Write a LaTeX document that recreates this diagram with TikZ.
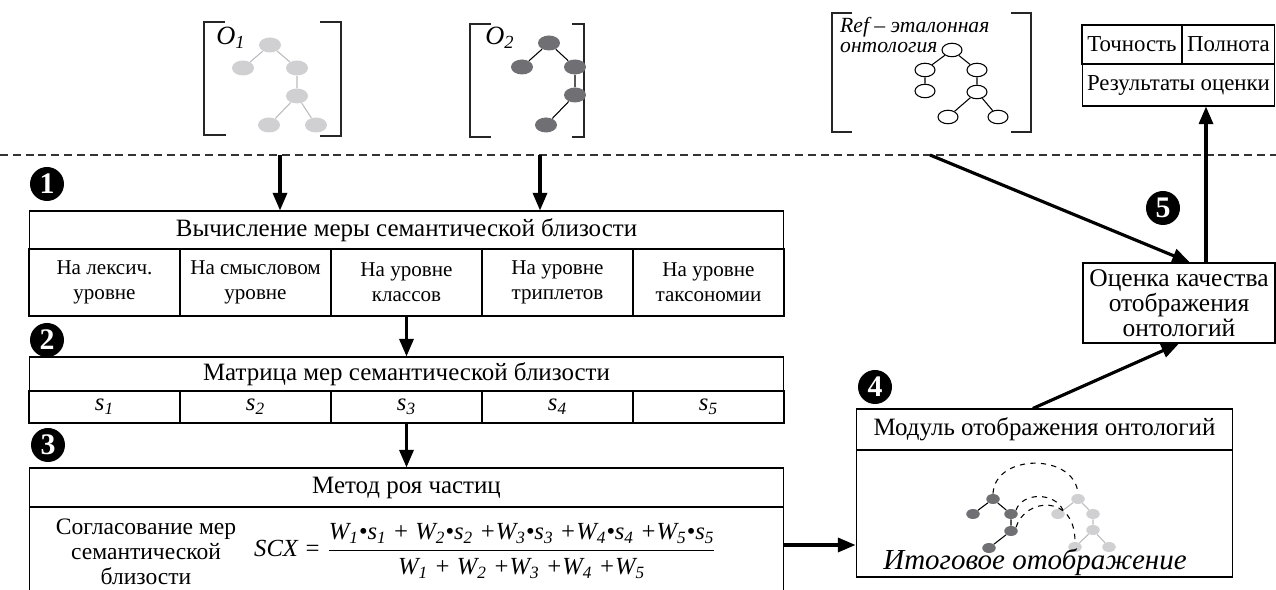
\documentclass[tikz,border=0pt]{standalone}
\usepackage{fontspec}
\setmainfont{Liberation Serif}
\usetikzlibrary{arrows.meta, shapes.geometric, positioning}
\definecolor{lgray}{RGB}{208,208,210}
\definecolor{dgray}{RGB}{112,112,116}
\newcommand{\wsx}[2]{#1\textsubscript{#2}}

\tikzset{
  cell/.style={draw, line width=0.6pt, inner sep=0pt, align=center, font=\fontsize{14.2}{14.2}\selectfont},
  col/.style={cell, font=\fontsize{12}{14.2}\selectfont},
  arr/.style={-{Triangle[length=10pt, width=8pt]}, line width=1.8pt},
  badge/.style={circle, fill=black, text=white, inner sep=0pt, minimum size=0.68cm,
    font=\fontsize{17}{17}\selectfont\bfseries},
  brk/.style={line width=0.7pt, draw=black!85},
  sep/.style={dashed, dash pattern=on 4.5pt off 2.8pt, line width=0.6pt, draw=black!80},
  lnode/.style={ellipse, fill=lgray, inner sep=0pt, minimum width=0.44cm, minimum height=0.3cm},
  dnode/.style={lnode, fill=dgray},
  wnode/.style={ellipse, draw, fill=white, line width=0.6pt, inner sep=0pt,
    minimum width=0.4cm, minimum height=0.27cm},
  lsmall/.style={lnode, minimum width=0.27cm, minimum height=0.2cm},
  dsmall/.style={dnode, minimum width=0.27cm, minimum height=0.2cm},
  ledge/.style={draw=lgray!90!black, line width=0.6pt},
  dedge/.style={draw=black, line width=0.6pt},
}

\begin{document}
\begin{tikzpicture}[x=0.02cm, y=-0.02cm]
  \clip (0,0) rectangle (1276,590);
  % Разделительная линия
  \draw[sep] (0,155) -- (1276,155);

  % Онтология O1
  \draw[brk] (225,22) -| (204,135) -- (226,135);
  \draw[brk] (320,22) -| (341,136) -- (320,136);
  \node[font=\fontsize{15}{15}\selectfont\itshape] (o1lbl) at (231,38) {O\textsubscript{1}};
  \node[lnode] (a1) at (270,45) {};
  \node[lnode] (a2) at (243,68) {};
  \node[lnode] (a3) at (297,68) {};
  \node[lnode] (a4) at (297,96) {};
  \node[lnode] (a5) at (269,125) {};
  \node[lnode] (a6) at (316,125) {};
  \draw[ledge] (a1) -- (a2) (a1) -- (a3) (a3) -- (a4) (a4) -- (a5) (a4) -- (a6);
  \coordinate (o1out) at (280,155);

  % Онтология O2
  \draw[brk] (491,24) -| (470,137) -- (491,137);
  \draw[brk] (572,24) -| (584,137) -- (572,137);
  \node[font=\fontsize{15}{15}\selectfont\itshape] (o2lbl) at (500,38) {O\textsubscript{2}};
  \node[dnode] (b1) at (549,43) {};
  \node[dnode] (b2) at (522,67) {};
  \node[dnode] (b3) at (575,67) {};
  \node[dnode] (b4) at (575,95) {};
  \node[dnode] (b5) at (546,125) {};
  \draw[dedge] (b1) -- (b2) (b1) -- (b3) (b3) -- (b4) (b4) -- (b5);
  \coordinate (o2out) at (540,155);

  % Эталонная онтология
  \draw[brk] (852,13) -| (832,132) -- (852,132);
  \draw[brk] (1011,13) -| (1031,132) -- (1011,132);
  \node[anchor=west, align=left, font=\fontsize{12.3}{11.5}\selectfont\itshape] (reflbl) at (834,35)
    {Ref -- эталонная\\онтология};
  \node[wnode] (r1) at (952,50) {};
  \node[wnode] (r2) at (925,70) {};
  \node[wnode] (r3) at (977,70) {};
  \node[wnode] (r4) at (925,91) {};
  \node[wnode] (r5) at (977,92) {};
  \node[wnode] (r6) at (948,117) {};
  \node[wnode] (r7) at (998,117) {};
  \draw[dedge] (r1) -- (r2) (r1) -- (r3) (r2) -- (r4) (r3) -- (r5) (r5) -- (r6) (r5) -- (r7);
  \coordinate (refout) at (930,155);

  % Результаты оценки
  \node[cell, font=\fontsize{13}{13}\selectfont, minimum width=2cm, minimum height=0.78cm] (prec) at (1132,44.5) {Точность};
  \node[cell, font=\fontsize{13}{13}\selectfont, minimum width=1.85cm, minimum height=0.78cm] (recall) at (1228.5,44.5) {Полнота};
  \node[cell, font=\fontsize{13}{13}\selectfont, minimum width=3.85cm, minimum height=0.84cm] (res) at (1178.5,85) {Результаты оценки};

  % 1 -- Вычисление мер
  \node[badge] (n1) at (47,184) {1};
  \node[cell, minimum width=15.1cm, minimum height=0.76cm] (calc) at (406.5,230)
    {Вычисление меры семантической близости};
  \foreach \i/\t in {1/{На лексич.\\уровне}, 2/{На смысловом\\уровне}, 3/{На уровне\\классов},
                     4/{На уровне\\триплетов}, 5/{На уровне\\таксономии}}
    \node[col, minimum width=3.02cm, minimum height=1.34cm] (c\i) at (104.5+151*\i-151,282.5) {\t};

  % 2 -- Матрица мер
  \node[badge] (n2) at (47,340) {2};
  \node[cell, minimum width=15.1cm, minimum height=0.68cm] (matr) at (406.5,374)
    {Матрица мер семантической близости};
  \foreach \i in {1,...,5}
    \node[cell, minimum width=3.02cm, minimum height=0.64cm, font=\fontsize{14}{14}\selectfont\itshape]
      (s\i) at (104.5+151*\i-151,407) {s\textsubscript{\i}};

  % 3 -- Метод роя частиц
  \node[badge] (n3) at (48,445) {3};
  \node[cell, minimum width=15.1cm, minimum height=0.78cm] (pso) at (406.5,487.5) {Метод роя частиц};
  \node[cell, minimum width=15.1cm, minimum height=2.06cm] (psolow) at (406.5,558.5) {};
  \node[align=center, font=\fontsize{13.4}{14.2}\selectfont] (agree) at (146,552) {Согласование мер\\семантической\\близости};
  \node[font=\fontsize{14}{14}\selectfont\itshape, anchor=west] (scx) at (248,551)
    {SCX = $\displaystyle\frac{\hbox{\wsx{W}{1}•\wsx{s}{1} + \wsx{W}{2}•\wsx{s}{2} +\wsx{W}{3}•\wsx{s}{3} +\wsx{W}{4}•\wsx{s}{4} +\wsx{W}{5}•\wsx{s}{5}}}
      {\hbox{\wsx{W}{1} + \wsx{W}{2} +\wsx{W}{3} +\wsx{W}{4} +\wsx{W}{5}}}$};

  % 4 -- Модуль отображения
  \node[badge] (n4) at (875,387) {4};
  \node[cell, minimum width=7.54cm, minimum height=0.82cm] (maptitle) at (1044.5,429.5)
    {Модуль отображения онтологий};
  \node[cell, minimum width=7.54cm, minimum height=2.54cm] (mapbody) at (1044.5,513.5) {};
  \node[dsmall] (d1) at (993,499) {};
  \node[dsmall] (d2) at (973,514) {};
  \node[dsmall] (d3) at (1011,514) {};
  \node[dsmall] (d4) at (1011,531) {};
  \node[dsmall] (d5) at (989,548) {};
  \draw[dedge] (d1) -- (d2) (d1) -- (d3) (d3) -- (d4) (d4) -- (d5);
  \node[lsmall] (l1) at (1078,499) {};
  \node[lsmall] (l2) at (1058,514) {};
  \node[lsmall] (l3) at (1093,514) {};
  \node[lsmall] (l4) at (1093,530) {};
  \node[lsmall] (l5) at (1075,547) {};
  \node[lsmall] (l6) at (1109,547) {};
  \draw[ledge] (l1) -- (l2) (l1) -- (l3) (l3) -- (l4) (l4) -- (l5) (l4) -- (l6);
  \draw[dashed, line width=0.6pt] (d1.north) .. controls (995,453) and (1075,453) .. (l1.north);
  \draw[dashed, line width=0.6pt] (d3.north east) .. controls (1022,492) and (1055,492) .. (l2.north east);
  \draw[dashed, line width=0.6pt] (d4.north east) .. controls (1025,498) and (1075,493) .. (l5.north);
  \node[font=\fontsize{16.5}{16.5}\selectfont\itshape, anchor=base] (final) at (1035,570) {Итоговое отображение};

  % 5 -- Оценка качества
  \node[badge] (n5) at (1163,208) {5};
  \node[cell, font=\fontsize{14.5}{14.2}\selectfont, minimum width=3.84cm, minimum height=1.6cm] (quality) at (1179,303)
    {Оценка качества\\отображения\\онтологий};

  % Связи
  \coordinate (upx) at (1206,0);
  \coordinate (lnk) at (0,545);
  \draw[arr] (o1out) -- (calc.north -| o1out);
  \draw[arr] (o2out) -- (calc.north -| o2out);
  \draw[arr] (c3.south) -- (matr.north);
  \draw[arr] (s3.south) -- (pso.north);
  \draw[arr] (psolow.east |- lnk) -- (mapbody.west |- lnk);
  \draw[arr] (maptitle.119) -- (quality.south);
  \draw[arr] (refout) -- (quality.75);
  \draw[arr] (quality.north -| upx) -- (res.south -| upx);
\end{tikzpicture}
\end{document}
